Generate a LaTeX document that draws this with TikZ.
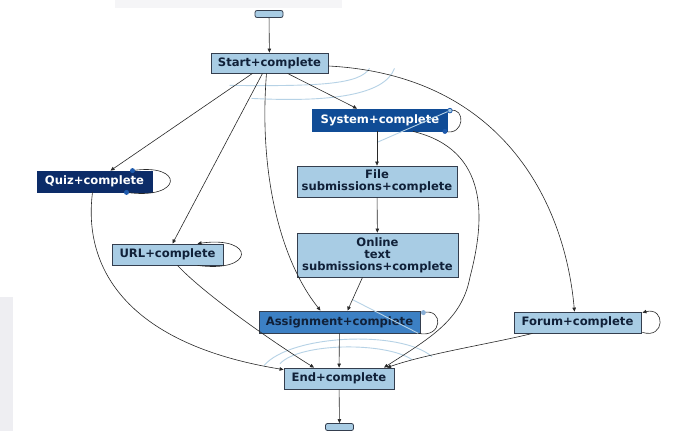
\documentclass[tikz,border=0pt]{standalone}
\usepackage{fontspec}
\setmainfont{DejaVu Sans}
\usetikzlibrary{arrows.meta, calc}
\definecolor{actlight}{RGB}{168,204,228}
\definecolor{actline}{RGB}{52,62,78}
\definecolor{acttext}{RGB}{16,32,56}
\definecolor{quizblue}{RGB}{12,44,104}
\definecolor{sysblue}{RGB}{16,76,150}
\definecolor{asgblue}{RGB}{60,128,196}
\definecolor{fadeedge}{RGB}{182,210,230}
\definecolor{dotblue}{RGB}{30,90,172}
\definecolor{edgeblack}{RGB}{40,40,40}
\definecolor{panelgray}{RGB}{238,238,242}
\tikzset{
  act/.style = {draw = actline, fill = actlight, text = acttext, line width = 0.8,
    inner sep = 0pt, align = center, font = \bfseries\fontsize{11.6}{12}\selectfont},
  term/.style = {draw = actline, fill = actlight, line width = 0.8, rounded corners = 2pt,
    minimum width = 28, minimum height = 7, inner sep = 0pt},
  loopedge/.style = {draw = edgeblack, line width = 0.6},
  arr/.style = {loopedge, -{Triangle[length = 4pt, width = 3.5pt]}},
  fade/.style = {draw = fadeedge, line width = 0.9},
}

\begin{document}
\begin{tikzpicture}[x = 1pt, y = -1pt]
\useasboundingbox (0,0) rectangle (684,431);
\fill [white] (0,0) rectangle (684,431);
\fill [panelgray!60] (115,0) rectangle (342,8);
\fill [panelgray] (0,297) rectangle (13,431);

\node [term] (top) at (269,14) {};
\node [act, minimum width = 117, minimum height = 20] (start) at (269.5,63) {Start+complete};
\node [act, draw = sysblue, fill = sysblue, text = white, minimum width = 135, minimum height = 22] (system) at (380,120) {System+complete};
\node [act, draw = quizblue, fill = quizblue, text = white, minimum width = 115, minimum height = 21] (quiz) at (94.5,181.5) {Quiz+complete};
\node [act, minimum width = 160, minimum height = 31] (file) at (377,181.5) {File\\submissions+complete};
\node [act, minimum width = 111, minimum height = 21] (url) at (167.5,254.5) {URL+complete};
\node [act, minimum width = 161, minimum height = 44] (online) at (377.5,255) {Online\\text\\submissions+complete};
\node [act, fill = asgblue, minimum width = 161, minimum height = 22] (assign) at (339.5,322) {Assignment+complete};
\node [act, minimum width = 127, minimum height = 21] (forum) at (577.5,322.5) {Forum+complete};
\node [act, minimum width = 110, minimum height = 21] (finish) at (339,378.5) {End+complete};
\node [term] (bottom) at (339.5,427) {};

\coordinate (quiztop) at ($(quiz.north)+(38,0)$);
\coordinate (quizbot) at ($(quiz.south)+(32,0)$);
\coordinate (systop) at ($(system.north east)+(2,2)$);
\coordinate (sysbot) at ($(system.south east)+(-3,0)$);
\coordinate (asgtop) at ($(assign.north east)+(3,2)$);
\coordinate (asgbot) at ($(assign.south east)+(-2,0)$);

\draw [fade] ($(start.south)+(-40,12)$) .. controls +(90,1) and +(-10,16) .. ($(start.south)+(100,-5)$);
\draw [fade] ($(start.south)+(-18,25)$) .. controls +(78,4) and +(-10,27) .. ($(start.south)+(125,-5)$);
\draw [fade] ($(finish.north)+(-75,-2)$) .. controls +(26,-31) and +(-32,-27) .. ($(finish.north)+(93,-11)$);
\draw [fade] ($(finish.north)+(-59,-4)$) .. controls +(20,-21) and +(-27,-18) .. ($(finish.north)+(73,-8)$);
\draw [fade] (systop) -- ($(system.south)+(-3,11)$);
\draw [fade] ($(assign.north)+(13,-11)$) -- (asgbot);

\foreach \a/\b in {top/start, file/online, assign/finish, finish/bottom}
\draw [arr] (\a) -- (\b);
\draw [arr] (system.south -| file.north) -- (file.north);
\draw [arr] ($(start.south)+(18,0)$) -- ($(system.north)+(-23,0)$);
\draw [arr] ($(start.south)+(-17,0)$) -- ($(quiz.north)+(16,0)$);
\draw [arr] ($(start.south)+(-7,0)$) -- ($(url.north)+(5,0)$);
\draw [arr] ($(start.south)+(-3,0)$) .. controls +(-8,100) and +(-40,-50) .. ($(assign.north)+(-19,0)$);
\draw [arr] ($(start.east)+(0,3)$) .. controls +(172,9) and +(-10,-112) .. ($(forum.north)+(-3,0)$);
\draw [arr] ($(online.south)+(-15,0)$) -- ($(assign.north)+(8,0)$);
\draw [arr] ($(system.south)+(33,0)$) .. controls (490,150) and (485,220) .. (470,277)
  .. controls (462,320) and (430,338) .. ($(finish.north)+(45,0)$);
\draw [arr] ($(forum.south)+(-45,0)$) .. controls +(-40,10) and +(40,-14) .. ($(finish.north)+(48,0)$);
\draw [arr] ($(quiz.south)+(-2,0)$) .. controls +(-10,78) and +(-154,-25) .. ($(finish.north west)+(0,2)$);
\draw [arr] ($(url.south)+(10,0)$) .. controls +(25,27) and +(-45,-28) .. ($(finish.north)+(-25,0)$);

\draw [loopedge] (quiztop) .. controls +(52,-8) and +(57,8) .. (quizbot);
\draw [arr] ($(url.south)+(30,0)$) .. controls +(58,8) and +(58,-8) .. ($(url.north)+(30,0)$);
\draw [loopedge] (systop) .. controls +(16,-4) and +(20,5) .. (sysbot);
\draw [loopedge] (asgtop) .. controls +(20,-5) and +(25,5) .. (asgbot);
\draw [arr] ($(forum.south east)+(1,-1)$) .. controls +(23,7) and +(23,-6) .. ($(forum.north east)+(1,1)$);

\foreach \c in {quiztop, quizbot, sysbot}
\fill [dotblue] (\c) circle (2.5);
\filldraw [fill = actlight, draw = dotblue, line width = 0.8] (systop) circle (2.3);
\fill [fadeedge!70!dotblue] (asgtop) circle (2.5);
\end{tikzpicture}
\end{document}
